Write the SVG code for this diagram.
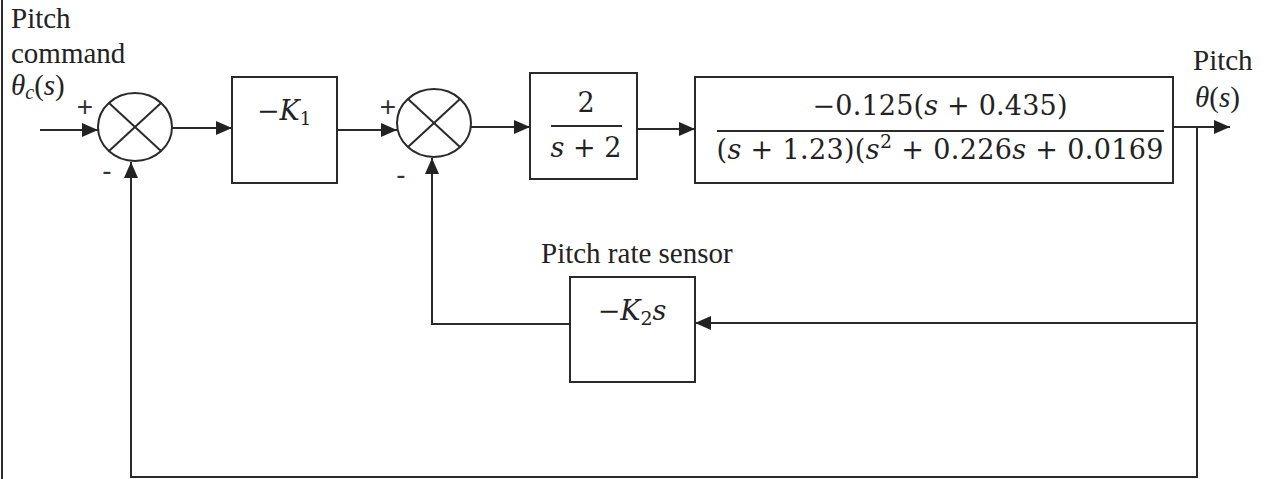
<svg xmlns="http://www.w3.org/2000/svg" width="1266" height="479" viewBox="0 0 1266 479">
<style>
.ln{fill:none;stroke:#2a2a2a;stroke-width:2}
.bx{fill:#fff;stroke:#2a2a2a;stroke-width:2}
.lbl{font-family:"Liberation Serif",serif;font-size:29px;fill:#222}
.mth{font-family:"DejaVu Serif",serif;font-size:27px;fill:#222}
.sgn{font-family:"Liberation Sans",sans-serif;font-size:28px;fill:#333}
.it{font-style:italic}
</style>
<defs>
<marker id="ah" markerUnits="userSpaceOnUse" markerWidth="17" markerHeight="15" refX="16" refY="7" orient="auto">
<path d="M0,0 L16,7 L0,14 z" fill="#222"/>
</marker>
</defs>
<rect width="1266" height="479" fill="#fff"/>
<line x1="2" y1="0" x2="2" y2="479" class="ln"/>

<g id="connectors">
<line x1="40" y1="130" x2="98" y2="130" class="ln" marker-end="url(#ah)"/>
<line x1="172" y1="128" x2="232" y2="128" class="ln" marker-end="url(#ah)"/>
<line x1="337" y1="130" x2="397" y2="130" class="ln" marker-end="url(#ah)"/>
<line x1="471" y1="127" x2="530" y2="127" class="ln" marker-end="url(#ah)"/>
<line x1="637" y1="129" x2="695" y2="129" class="ln" marker-end="url(#ah)"/>
<line x1="1173" y1="127" x2="1230" y2="127" class="ln" marker-end="url(#ah)"/>
<polyline points="1197,127 1197,477 131,477 131,162" class="ln" marker-end="url(#ah)"/>
<line x1="1197" y1="323" x2="695" y2="323" class="ln" marker-end="url(#ah)"/>
<polyline points="570,324 432,324 432,158" class="ln" marker-end="url(#ah)"/>
</g>

<g id="sum1">
<ellipse cx="135" cy="127" rx="37" ry="34" class="bx"/>
<line x1="109" y1="103" x2="161" y2="151" class="ln"/>
<line x1="161" y1="103" x2="109" y2="151" class="ln"/>
<text x="85" y="116" class="sgn" text-anchor="middle">+</text>
<text x="107" y="180" class="sgn" text-anchor="middle">-</text>
</g>

<g id="gainK1">
<rect x="232" y="77" width="105" height="106" class="bx"/>
<text x="284" y="120" class="mth" font-size="26" text-anchor="middle">−<tspan class="it">K</tspan><tspan font-size="18" dy="5">1</tspan></text>
</g>

<g id="sum2">
<ellipse cx="434" cy="123" rx="37" ry="34" class="bx"/>
<line x1="408" y1="99" x2="460" y2="147" class="ln"/>
<line x1="460" y1="99" x2="408" y2="147" class="ln"/>
<text x="388" y="116" class="sgn" text-anchor="middle">+</text>
<text x="401" y="184" class="sgn" text-anchor="middle">-</text>
</g>

<g id="actuator">
<rect x="530" y="73" width="107" height="106" class="bx"/>
<text x="586" y="112" class="mth" font-size="26" text-anchor="middle">2</text>
<line x1="551" y1="126" x2="622" y2="126" class="ln"/>
<text x="586" y="157" class="mth" font-size="26" text-anchor="middle"><tspan class="it">s</tspan> + 2</text>
</g>

<g id="plant">
<rect x="695" y="77" width="478" height="106" class="bx"/>
<text x="940" y="115" class="mth" text-anchor="middle" textLength="255" lengthAdjust="spacing">−0.125(<tspan class="it">s</tspan> + 0.435)</text>
<line x1="717" y1="131" x2="1164" y2="131" class="ln"/>
<text x="940" y="159" class="mth" text-anchor="middle" textLength="447" lengthAdjust="spacing">(<tspan class="it">s</tspan> + 1.23)(<tspan class="it">s</tspan><tspan font-size="19" dy="-11">2</tspan><tspan dy="11"> + 0.226</tspan><tspan class="it">s</tspan> + 0.0169</text>
</g>

<g id="rateSensor">
<rect x="570" y="277" width="125" height="105" class="bx"/>
<text x="632" y="320" class="mth" text-anchor="middle">−<tspan class="it">K</tspan><tspan font-size="19" dy="5">2</tspan><tspan class="it" dy="-5">s</tspan></text>
<text x="541" y="263" class="lbl">Pitch rate sensor</text>
</g>

<g id="inputLabel">
<text x="11" y="28" class="lbl">Pitch</text>
<text x="11" y="63" class="lbl">command</text>
<text x="11" y="95" class="lbl"><tspan class="it">θ</tspan><tspan class="it" font-size="20" dy="4">c</tspan><tspan dy="-4">(</tspan><tspan class="it">s</tspan>)</text>
</g>

<g id="outputLabel">
<text x="1193" y="70" class="lbl">Pitch</text>
<text x="1195" y="107" class="lbl"><tspan class="it">θ</tspan>(<tspan class="it">s</tspan>)</text>
</g>
</svg>
